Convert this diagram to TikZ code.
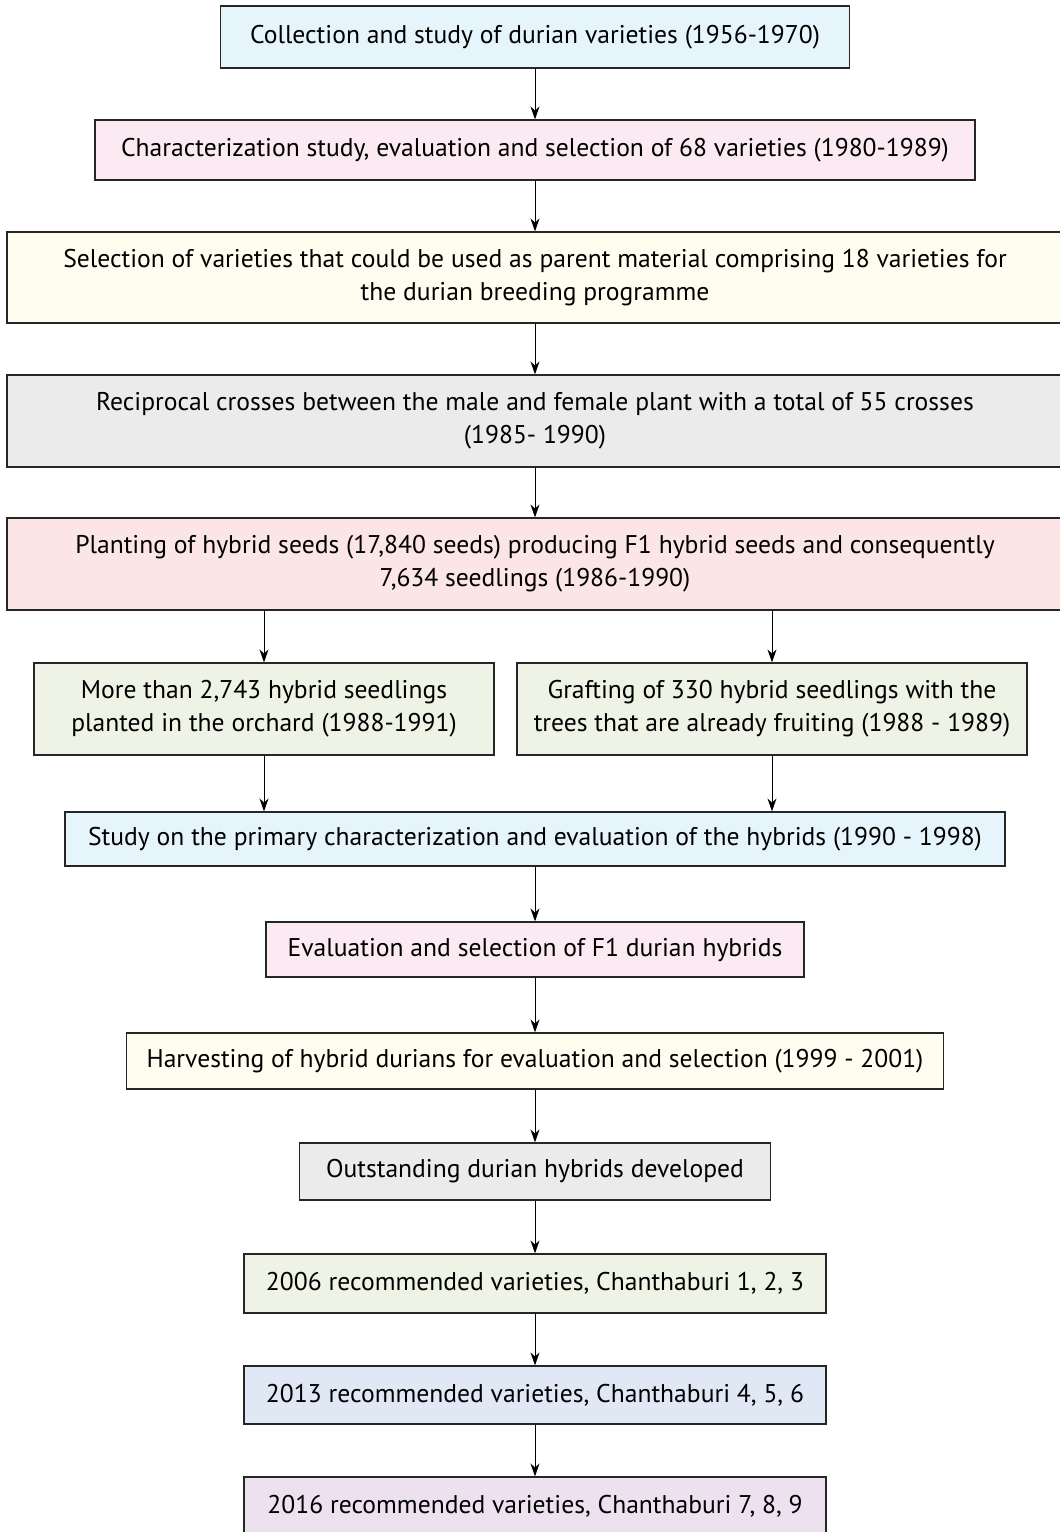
\documentclass[tikz,border=0pt]{standalone}
\usepackage{fontspec}
\setmainfont{PT Sans}
\usetikzlibrary{arrows.meta}
\definecolor{stepblue}{HTML}{E6F5FC}
\definecolor{steppink}{HTML}{FCEAF2}
\definecolor{stepyellow}{HTML}{FFFDEF}
\definecolor{stepgrey}{HTML}{EBEBEB}
\definecolor{stepsalmon}{HTML}{FCE5E5}
\definecolor{stepgreen}{HTML}{EEF3E6}
\definecolor{steplavender}{HTML}{E0E8F5}
\definecolor{steplilac}{HTML}{EDE1F0}
\tikzset{
  stagebox/.style={draw=black!85, line width=1.2pt, align=center, inner sep=0pt,
    font=\fontsize{25.6}{33}\selectfont},
  flow/.style={-{Stealth[length=13pt,width=9pt]}, line width=0.9pt}
}
\begin{document}
\begin{tikzpicture}[x=1pt,y=-1pt]
\useasboundingbox (0,0) rectangle (1060,1532);
% main column
\node[stagebox, fill=stepblue, minimum width=629pt, minimum height=62pt] (collect) at (535,37)
  {Collection and study of durian varieties (1956-1970)};
\node[stagebox, fill=steppink, minimum width=880pt, minimum height=60pt] (charact) at (535,150)
  {Characterization study, evaluation and selection of 68 varieties (1980-1989)};
\node[stagebox, fill=stepyellow, minimum width=1056pt, minimum height=91pt] (parents) at (535,277.5)
  {Selection of varieties that could be used as parent material comprising 18 varieties for\\
   the durian breeding programme};
\node[stagebox, fill=stepgrey, minimum width=1056pt, minimum height=92pt] (crosses) at (535,421)
  {Reciprocal crosses between the male and female plant with a total of 55 crosses\\ (1985- 1990)};
\node[stagebox, fill=stepsalmon, minimum width=1056pt, minimum height=92pt] (planting) at (535,564)
  {Planting of hybrid seeds (17,840 seeds) producing F1 hybrid seeds and consequently\\
   7,634 seedlings (1986-1990)};
% two branches
\node[stagebox, fill=stepgreen, minimum width=460pt, minimum height=92pt] (orchard) at (264,709)
  {More than 2,743 hybrid seedlings\\ planted in the orchard (1988-1991)};
\node[stagebox, fill=stepgreen, minimum width=510pt, minimum height=92pt] (grafting) at (772,709)
  {Grafting of 330 hybrid seedlings with the\\ trees that are already fruiting (1988 - 1989)};
% main column again
\node[stagebox, fill=stepblue, minimum width=940pt, minimum height=54pt] (primary) at (535,839)
  {Study on the primary characterization and evaluation of the hybrids (1990 - 1998)};
\node[stagebox, fill=steppink, minimum width=538pt, minimum height=55pt] (evalsel) at (535,949.5)
  {Evaluation and selection of F1 durian hybrids};
\node[stagebox, fill=stepyellow, minimum width=817pt, minimum height=56pt] (harvest) at (535,1061)
  {Harvesting of hybrid durians for evaluation and selection (1999 - 2001)};
\node[stagebox, fill=stepgrey, minimum width=471pt, minimum height=57pt] (outstand) at (535,1171.5)
  {Outstanding durian hybrids developed};
\node[stagebox, fill=stepgreen, minimum width=582pt, minimum height=59pt] (rec06) at (535,1283.5)
  {2006 recommended varieties, Chanthaburi 1, 2, 3};
\node[stagebox, fill=steplavender, minimum width=582pt, minimum height=58pt] (rec13) at (535,1395)
  {2013 recommended varieties, Chanthaburi 4, 5, 6};
\node[stagebox, fill=steplilac, minimum width=582pt, minimum height=58pt] (rec16) at (535,1506)
  {2016 recommended varieties, Chanthaburi 7, 8, 9};
% arrows
\draw[flow] (collect) -- (charact);
\draw[flow] (charact) -- (parents);
\draw[flow] (parents) -- (crosses);
\draw[flow] (crosses) -- (planting);
\draw[flow] (planting.south -| orchard.north) -- (orchard);
\draw[flow] (planting.south -| grafting.north) -- (grafting);
\draw[flow] (orchard) -- (orchard |- primary.north);
\draw[flow] (grafting) -- (grafting |- primary.north);
\draw[flow] (primary) -- (evalsel);
\draw[flow] (evalsel) -- (harvest);
\draw[flow] (harvest) -- (outstand);
\draw[flow] (outstand) -- (rec06);
\draw[flow] (rec06) -- (rec13);
\draw[flow] (rec13) -- (rec16);
\end{tikzpicture}
\end{document}
